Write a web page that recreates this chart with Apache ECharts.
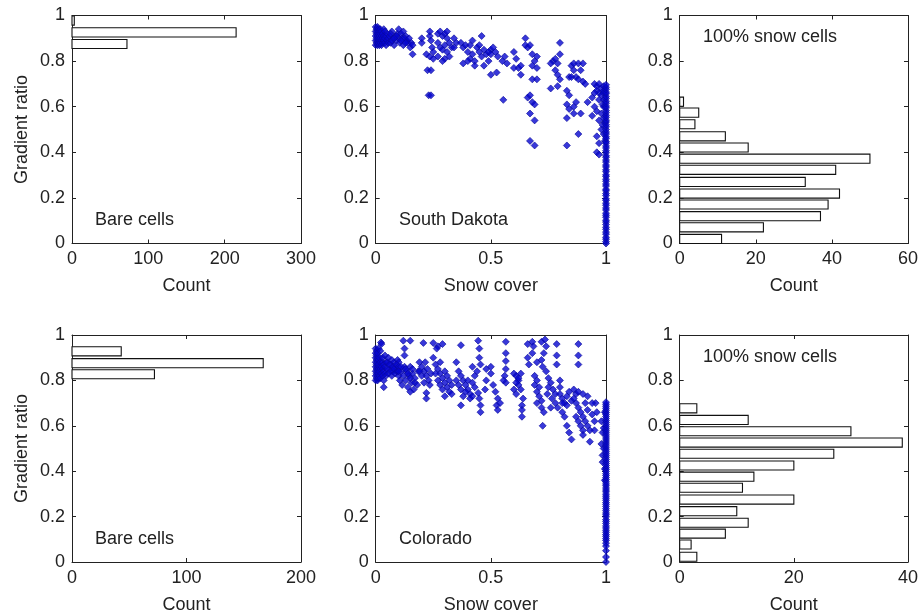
<!DOCTYPE html>
<html>
<head>
<meta charset="utf-8">
<script src="https://cdn.jsdelivr.net/npm/echarts@6/dist/echarts.min.js"></script>
<style>html,body{margin:0;padding:0;background:#fff}#c{width:921px;height:615px}</style>
</head>
<body>
<div id="c"></div>
<script>
// ---------- DATA ----------
// Histograms (bin centre on gradient ratio, count)
var sdBareCenters = [0.875, 0.926, 0.978];
var sdBareCounts  = [72, 215, 3];
var sdSnowCenters = [0.02, 0.071, 0.120, 0.171, 0.219, 0.270, 0.323, 0.372, 0.421, 0.470, 0.523, 0.574, 0.622];
var sdSnowCounts  = [11, 22, 37, 39, 42, 33, 41, 50, 18, 12, 4, 5, 1];
var coBareCenters = [0.827, 0.876, 0.928];
var coBareCounts  = [72, 167, 43];
var coSnowCenters = [0.023, 0.077, 0.125, 0.173, 0.224, 0.275, 0.327, 0.376, 0.425, 0.477, 0.526, 0.576, 0.626, 0.677];
var coSnowCounts  = [3, 2, 8, 12, 10, 20, 11, 13, 20, 27, 39, 30, 12, 3];

// Scatter: [snow cover, gradient ratio]
var sdScatter = [
[0,0.87],[0,0.89],[0,0.91],[0,0.93],[0,0.95],[0.004,0.88],[0.004,0.9],[0.004,0.92],[0.004,0.94],[0.008,0.87],[0.008,0.89],[0.008,0.91],[0.008,0.93],[0.008,0.95],[0.012,0.88],[0.012,0.9],[0.012,0.92],[0.012,0.94],[0.016,0.87],[0.016,0.89],[0.016,0.91],[0.016,0.93],[0.02,0.88],[0.02,0.9],[0.02,0.92],[0.02,0.94],[0.025,0.87],[0.025,0.89],[0.025,0.91],[0.025,0.93],[0.03,0.88],[0.03,0.9],[0.03,0.92],[0.035,0.89],[0.035,0.91],[0.035,0.94],[0.04,0.88],[0.04,0.9],[0.04,0.93],[0.045,0.87],[0.045,0.91],[0.05,0.89],[0.05,0.92],[0.055,0.9],[0.055,0.88],
[0.06,0.91],[0.065,0.88],[0.07,0.93],[0.075,0.9],[0.08,0.87],[0.085,0.91],[0.09,0.89],[0.095,0.92],[0.1,0.94],[0.1,0.9],[0.105,0.88],[0.11,0.92],[0.115,0.9],[0.12,0.93],[0.12,0.87],[0.13,0.91],[0.135,0.89],[0.14,0.88],[0.15,0.86],[0.155,0.88],[0.16,0.83],[0.16,0.87],[0.07,0.89],[0.09,0.91],[0.125,0.9],[0.145,0.9],[0.065,0.92],[0.08,0.9],[0.11,0.89],[0.13,0.88],
[0.2,0.88],[0.2,0.9],[0.22,0.83],[0.225,0.76],[0.23,0.65],[0.235,0.82],[0.235,0.91],[0.235,0.93],[0.24,0.76],[0.24,0.65],[0.24,0.89],[0.245,0.86],[0.25,0.84],[0.25,0.81],
[0.27,0.92],[0.28,0.93],[0.29,0.91],[0.3,0.92],[0.31,0.9],[0.27,0.88],[0.28,0.86],[0.29,0.85],[0.3,0.87],[0.31,0.84],[0.32,0.88],[0.33,0.86],[0.34,0.9],[0.35,0.88],[0.27,0.82],[0.3,0.81],[0.32,0.82],[0.34,0.86],[0.31,0.93],[0.29,0.8],
[0.37,0.88],[0.38,0.86],[0.39,0.87],[0.4,0.84],[0.41,0.81],[0.42,0.83],[0.43,0.8],[0.44,0.86],[0.45,0.84],[0.46,0.82],[0.47,0.78],[0.48,0.83],[0.5,0.85],[0.38,0.79],[0.4,0.8],[0.42,0.89],[0.46,0.91],[0.45,0.87],[0.49,0.8],[0.41,0.87],[0.43,0.78],
[0.47,0.85],[0.49,0.84],[0.5,0.83],[0.52,0.84],[0.53,0.82],[0.51,0.86],[0.5,0.74],[0.525,0.75],[0.56,0.82],[0.57,0.79],[0.55,0.8],[0.554,0.63],
[0.6,0.84],[0.61,0.81],[0.62,0.77],[0.6,0.77],[0.63,0.78],[0.63,0.74],[0.65,0.9],[0.65,0.87],[0.66,0.86],[0.67,0.87],[0.68,0.83],[0.69,0.8],[0.7,0.82],[0.68,0.78],[0.7,0.77],[0.68,0.72],[0.7,0.72],[0.66,0.64],[0.67,0.65],[0.68,0.62],[0.69,0.61],[0.67,0.57],[0.69,0.54],[0.67,0.45],[0.69,0.43],
[0.8,0.88],[0.77,0.8],[0.78,0.81],[0.79,0.79],[0.76,0.79],[0.8,0.83],[0.78,0.76],[0.79,0.74],[0.8,0.72],[0.76,0.68],[0.79,0.69],
[0.85,0.78],[0.86,0.79],[0.88,0.79],[0.9,0.79],[0.84,0.73],[0.85,0.73],[0.87,0.73],[0.88,0.72],[0.9,0.71],[0.91,0.7],[0.86,0.76],[0.89,0.76],[0.83,0.67],[0.84,0.65],[0.83,0.61],[0.84,0.59],[0.86,0.6],[0.87,0.62],[0.83,0.55],[0.88,0.48],[0.83,0.43],[0.86,0.57],[0.89,0.57],[0.92,0.62],
[0.95,0.7],[0.96,0.69],[0.97,0.7],[0.98,0.68],[0.99,0.69],[0.96,0.67],[0.97,0.66],[0.98,0.65],[0.99,0.67],[0.95,0.66],[0.94,0.64],[0.97,0.63],[0.99,0.63],[0.95,0.6],[0.96,0.58],[0.98,0.57],[0.94,0.56],[0.97,0.54],[0.98,0.5],[0.99,0.48],[0.96,0.47],[0.97,0.44],[0.96,0.4],[0.97,0.39],[0.985,0.61],[0.99,0.55],[0.985,0.52],[0.99,0.66],[0.99,0.6],[0.995,0.53],[0.995,0.45]
];
// gradient ratios of fully snow-covered cells (snow cover = 1)
var sdFullY = [0.0,0.008,0.019,0.027,0.041,0.05,0.062,0.071,0.083,0.094,0.102,0.115,0.124,0.133,0.147,0.156,0.168,0.177,0.189,0.196,0.21,0.219,0.231,0.238,0.252,0.261,0.273,0.282,0.294,0.301,0.315,0.323,0.336,0.344,0.357,0.366,0.378,0.385,0.398,0.407,0.419,0.428,0.44,0.447,0.46,0.468,0.48,0.489,0.5,0.512,0.521,0.533,0.541,0.553,0.562,0.574,0.583,0.595,0.603,0.615,0.624,0.636,0.645,0.657,0.664,0.676,0.685,0.696];

var coScatter = [
[0,0.8],[0,0.82],[0,0.84],[0,0.86],[0,0.88],[0,0.9],[0,0.92],[0,0.94],[0.004,0.81],[0.004,0.83],[0.004,0.85],[0.004,0.87],[0.004,0.89],[0.004,0.91],[0.004,0.93],[0.008,0.8],[0.008,0.82],[0.008,0.84],[0.008,0.86],[0.008,0.88],[0.008,0.9],[0.008,0.92],[0.012,0.81],[0.012,0.83],[0.012,0.85],[0.012,0.87],[0.012,0.89],[0.012,0.94],[0.016,0.82],[0.016,0.84],[0.016,0.86],[0.016,0.9],[0.02,0.81],[0.02,0.85],[0.02,0.88],[0.02,0.93],[0.023,0.967],[0.025,0.83],[0.025,0.86],[0.025,0.96],[0.03,0.82],[0.03,0.85],[0.03,0.88],[0.035,0.84],[0.035,0.87],[0.04,0.83],[0.04,0.86],[0.045,0.82],[0.045,0.88],[0.035,0.8],[0.035,0.77],
[0.03,0.9],[0.04,0.91],[0.05,0.88],[0.055,0.9],[0.06,0.85],[0.065,0.87],[0.07,0.89],[0.075,0.84],[0.08,0.88],[0.085,0.86],[0.09,0.84],[0.095,0.89],[0.1,0.88],
[0.05,0.85],[0.055,0.83],[0.06,0.87],[0.065,0.84],[0.07,0.82],[0.075,0.86],[0.08,0.85],[0.085,0.83],[0.09,0.87],[0.095,0.84],[0.1,0.82],[0.1,0.86],[0.105,0.8],[0.11,0.84],[0.115,0.78],[0.12,0.82],[0.125,0.94],[0.125,0.91],[0.12,0.975],[0.15,0.975],[0.125,0.86],[0.13,0.8],[0.135,0.84],[0.14,0.77],[0.145,0.82],[0.15,0.86],[0.155,0.79],[0.16,0.83],[0.165,0.76],[0.17,0.79],[0.17,0.81],[0.18,0.78],[0.185,0.84],[0.11,0.86],[0.13,0.85],[0.14,0.83],[0.15,0.81],[0.16,0.85],[0.1,0.84],[0.15,0.75],
[0.207,0.965],[0.19,0.88],[0.2,0.86],[0.21,0.84],[0.22,0.82],[0.23,0.8],[0.2,0.82],[0.19,0.84],[0.21,0.79],[0.22,0.745],[0.22,0.72],[0.215,0.88],[0.225,0.85],[0.24,0.83],[0.235,0.78],
[0.25,0.965],[0.27,0.95],[0.265,0.94],[0.29,0.96],[0.25,0.9],[0.26,0.87],[0.27,0.85],[0.28,0.83],[0.29,0.81],[0.3,0.79],[0.31,0.77],[0.32,0.75],[0.27,0.8],[0.28,0.78],[0.3,0.84],[0.31,0.82],[0.33,0.74],[0.29,0.76],[0.26,0.83],[0.28,0.88],[0.32,0.8],[0.33,0.78],[0.3,0.73],
[0.37,0.955],[0.35,0.88],[0.36,0.84],[0.37,0.82],[0.38,0.8],[0.39,0.78],[0.4,0.76],[0.41,0.74],[0.37,0.76],[0.38,0.73],[0.42,0.79],[0.43,0.82],[0.44,0.84],[0.42,0.86],[0.36,0.78],[0.4,0.8],[0.41,0.72],[0.37,0.69],[0.39,0.75],[0.35,0.8],[0.43,0.77],[0.42,0.73],
[0.445,0.975],[0.45,0.94],[0.45,0.9],[0.455,0.87],[0.445,0.745],[0.45,0.72],[0.455,0.69],[0.455,0.66],[0.48,0.85],[0.48,0.8],[0.475,0.76],
[0.5,0.86],[0.5,0.83],[0.51,0.78],[0.52,0.75],[0.53,0.72],[0.525,0.69],[0.54,0.7],[0.53,0.67],
[0.565,0.97],[0.565,0.92],[0.565,0.885],[0.565,0.85],[0.56,0.82],[0.565,0.79],[0.555,0.8],
[0.6,0.83],[0.61,0.82],[0.62,0.8],[0.63,0.83],[0.62,0.78],[0.6,0.76],[0.61,0.74],[0.63,0.76],[0.64,0.72],[0.635,0.69],[0.635,0.67],[0.635,0.64],[0.61,0.79],[0.62,0.81],
[0.66,0.96],[0.68,0.97],[0.685,0.95],[0.68,0.92],[0.66,0.9],[0.7,0.88],[0.665,0.87],
[0.69,0.82],[0.7,0.8],[0.69,0.78],[0.7,0.75],[0.71,0.73],[0.72,0.71],[0.72,0.68],[0.73,0.66],[0.725,0.6],[0.71,0.77],[0.7,0.7],
[0.72,0.97],[0.735,0.98],[0.74,0.95],[0.73,0.92],[0.72,0.89],[0.725,0.86],[0.74,0.84],
[0.786,0.96],[0.786,0.91],[0.786,0.87],
[0.75,0.81],[0.76,0.79],[0.77,0.76],[0.78,0.74],[0.75,0.77],[0.765,0.72],[0.78,0.7],[0.76,0.68],[0.745,0.74],
[0.8,0.8],[0.8,0.77],[0.8,0.74],[0.81,0.72],[0.82,0.7],[0.79,0.68],[0.81,0.66],[0.83,0.73],[0.84,0.75],[0.85,0.71],[0.82,0.64],[0.83,0.6],[0.84,0.57],[0.85,0.54],[0.81,0.7],[0.83,0.69],
[0.88,0.96],[0.88,0.91],[0.88,0.87],
[0.86,0.76],[0.87,0.74],[0.88,0.75],[0.9,0.74],[0.92,0.73],[0.87,0.7],[0.88,0.68],[0.89,0.66],[0.9,0.64],[0.91,0.62],[0.92,0.6],[0.93,0.58],[0.9,0.58],[0.89,0.6],[0.94,0.65],[0.95,0.62],[0.95,0.58],[0.93,0.53],[0.955,0.7],[0.94,0.7],[0.96,0.66],[0.86,0.72],[0.91,0.7],[0.92,0.67],[0.87,0.64],[0.88,0.62],[0.9,0.56],
[0.98,0.62],[0.985,0.57],[0.98,0.52],[0.985,0.47],[0.985,0.44],[0.99,0.59],[0.99,0.5],[0.995,0.66],[0.995,0.41],[0.995,0.36]
];
var coFullY = [0.0,0.022,0.05,0.07,0.083,0.095,0.103,0.113,0.121,0.131,0.14,0.15,0.159,0.17,0.179,0.187,0.199,0.208,0.216,0.226,0.235,0.245,0.254,0.262,0.272,0.281,0.29,0.299,0.309,0.317,0.326,0.336,0.344,0.353,0.363,0.372,0.381,0.389,0.399,0.408,0.416,0.425,0.434,0.443,0.452,0.461,0.47,0.479,0.488,0.497,0.506,0.515,0.524,0.533,0.542,0.551,0.56,0.569,0.578,0.587,0.596,0.605,0.614,0.623,0.632,0.641,0.65,0.659,0.668,0.677,0.686,0.695,0.704];

// Tick settings
var yTickInterval = 0.2;
var sdBareMax = 300, sdBareStep = 100;
var sdSnowMax = 60, sdSnowStep = 20;
var coBareMax = 200, coBareStep = 100;
var coSnowMax = 40, coSnowStep = 20;
var coverMax = 1, coverStep = 0.5;

// ---------- CHART ----------
var FONT = '"Liberation Sans", Arial, Helvetica, sans-serif';
var INK = '#222';
var gridsPx = [
  {left: 72,    top: 15.5, width: 229,   height: 228},
  {left: 375.7, top: 15.5, width: 230.3, height: 228},
  {left: 679.7, top: 15.5, width: 229.3, height: 228},
  {left: 72,    top: 335,  width: 229,   height: 228},
  {left: 375.7, top: 335,  width: 230.3, height: 228},
  {left: 679.7, top: 335,  width: 229.3, height: 228}
];
var xSpecs = [
  {max: sdBareMax, step: sdBareStep, name: 'Count'},
  {max: coverMax,  step: coverStep,  name: 'Snow cover'},
  {max: sdSnowMax, step: sdSnowStep, name: 'Count'},
  {max: coBareMax, step: coBareStep, name: 'Count'},
  {max: coverMax,  step: coverStep,  name: 'Snow cover'},
  {max: coSnowMax, step: coSnowStep, name: 'Count'}
];

var lineStyle = {color: INK, width: 1};
function baseAxis(extra) {
  var a = {
    type: 'value',
    axisLine: {show: true, onZero: false, lineStyle: lineStyle},
    axisTick: {show: true, inside: true, length: 4, lineStyle: lineStyle},
    splitLine: {show: false},
    axisLabel: {color: INK, fontSize: 18, fontFamily: FONT, margin: 7},
    nameTextStyle: {color: INK, fontSize: 18, fontFamily: FONT}
  };
  for (var k in extra) a[k] = extra[k];
  return a;
}

var xAxes = [], yAxes = [];
gridsPx.forEach(function (g, i) {
  var s = xSpecs[i];
  xAxes.push(baseAxis({gridIndex: i, position: 'bottom', min: 0, max: s.max, interval: s.step,
    name: s.name, nameLocation: 'middle', nameGap: 34}));
  xAxes.push(baseAxis({gridIndex: i, position: 'top', min: 0, max: s.max, interval: s.step,
    axisLabel: {show: false}}));
  var yl = {gridIndex: i, position: 'left', min: 0, max: 1, interval: yTickInterval};
  if (i === 0 || i === 3) { yl.name = 'Gradient ratio'; yl.nameLocation = 'middle'; yl.nameGap = 41; }
  yAxes.push(baseAxis(yl));
  yAxes.push(baseAxis({gridIndex: i, position: 'right', min: 0, max: 1, interval: yTickInterval,
    axisLabel: {show: false}}));
});

var BAR_H = 0.04;
function histSeries(idx, centers, counts) {
  return {
    type: 'custom', xAxisIndex: idx * 2, yAxisIndex: idx * 2,
    encode: {x: 1, y: 0},
    data: centers.map(function (c, i) { return [c, counts[i]]; }),
    renderItem: function (params, api) {
      var c = api.value(0), n = api.value(1);
      var p0 = api.coord([0, c + BAR_H / 2]);
      var p1 = api.coord([n, c - BAR_H / 2]);
      return {type: 'rect',
        shape: {x: p0[0], y: p0[1], width: p1[0] - p0[0], height: p1[1] - p0[1]},
        style: {fill: '#fff', stroke: '#111', lineWidth: 1.1}};
    },
    silent: true
  };
}
function scatterSeries(idx, pts, fullY) {
  var data = pts.concat(fullY.map(function (y) { return [1, y]; }));
  return {
    type: 'scatter', xAxisIndex: idx * 2, yAxisIndex: idx * 2,
    data: data, symbol: 'diamond', symbolSize: 7,
    itemStyle: {color: '#0606d0', borderColor: '#0a0a9c', borderWidth: 0.8},
    silent: true, clip: false
  };
}

function label(text, left, top) {
  return {type: 'text', left: left, top: top,
    style: {text: text, font: '18px ' + FONT, fill: INK}};
}

var option = {
  animation: false,
  backgroundColor: '#fff',
  grid: gridsPx.map(function (g) { return {left: g.left, top: g.top, width: g.width, height: g.height, containLabel: false}; }),
  xAxis: xAxes,
  yAxis: yAxes,
  series: [
    histSeries(0, sdBareCenters, sdBareCounts),
    scatterSeries(1, sdScatter, sdFullY),
    histSeries(2, sdSnowCenters, sdSnowCounts),
    histSeries(3, coBareCenters, coBareCounts),
    scatterSeries(4, coScatter, coFullY),
    histSeries(5, coSnowCenters, coSnowCounts)
  ],
  graphic: [
    label('Bare cells', 95, 211),
    label('South Dakota', 399, 211),
    label('100% snow cells', 703, 28),
    label('Bare cells', 95, 530),
    label('Colorado', 399, 530),
    label('100% snow cells', 703, 348)
  ]
};
var chart = echarts.init(document.getElementById('c'), null, {renderer: 'canvas'});
chart.setOption(option);
</script>
</body>
</html>
